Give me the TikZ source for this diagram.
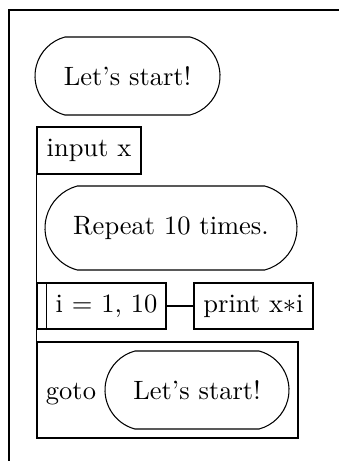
\documentclass[tikz,border=0pt]{standalone}
\usetikzlibrary{positioning,shapes.misc}
\newcommand\pxu{0.3774pt}
\tikzset{
  pill/.style={draw, line width=0.4pt, rounded rectangle, rounded rectangle arc length=150, inner sep=0pt, align=center},
  stmt/.style={draw, line width=0.65pt, inner sep=0pt, align=center},
  flow/.style={line width=0.4pt},
  frame/.style={line width=0.45pt}
}
\begin{document}
\begin{tikzpicture}[x=0.3774pt, y=-0.3774pt]
  \useasboundingbox (0,0) rectangle (339,461);
  % outer frame
  \coordinate (fb) at (9,461);
  \coordinate (fc) at (9,10);
  \coordinate (fr) at (339,10);
  \draw[frame] (fb) -- (fc) -- (fr);

  \node[pill, minimum width={185*\pxu}, minimum height={78*\pxu}] (start) at (127.5,76) {Let's start!};
  \node[stmt, minimum width={104*\pxu}, minimum height={47*\pxu}] (input) at (89,150.5) {input x};
  \node[pill, minimum width={252*\pxu}, minimum height={84*\pxu}] (repeat) at (171,228) {Repeat 10 times.};
  \node[stmt, minimum width={129*\pxu}, minimum height={46*\pxu}] (loop) at (101.5,306) {};
  \node (looptxt) at (106.5,306) {i = 1, 10};
  \draw[flow] ([xshift={10*\pxu}]loop.north west) -- ([xshift={10*\pxu}]loop.south west);
  \node[stmt, minimum width={119*\pxu}, minimum height={46*\pxu}] (print) at (253.5,306) {print x$*$i};
  \node[stmt, minimum width={261*\pxu}, minimum height={96*\pxu}] (goto) at (167.5,390) {};
  \node[pill, minimum width={184*\pxu}, minimum height={78*\pxu}] (target) at (197,390) {Let's start!};
  \node[anchor=base, inner sep=0pt] (gotolbl) at (71,399) {goto};

  \draw[flow] (input.south west) -- (goto.north west);
  \draw[flow] (loop.east) -- (print.west);
\end{tikzpicture}
\end{document}
